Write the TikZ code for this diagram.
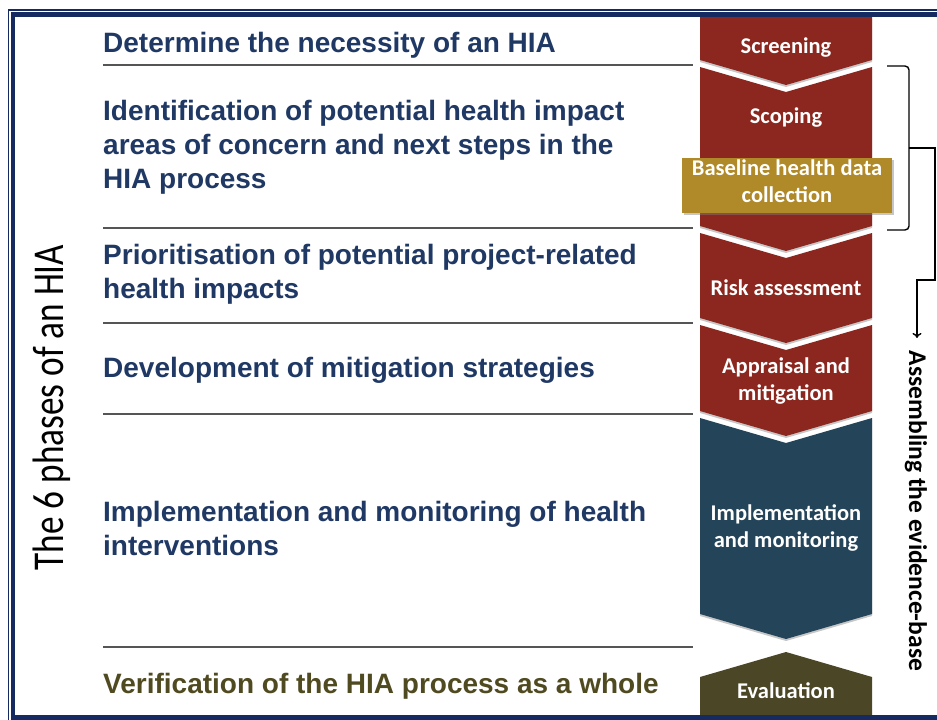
\documentclass[tikz,border=0pt]{standalone}
\usepackage{fontspec}
\newfontfamily\arialfont{Liberation Sans}
\newfontfamily\calibrifont{Carlito}
\usetikzlibrary{arrows.meta,shadows}

\definecolor{hianavy}{RGB}{31,56,100}
\definecolor{hiaolive}{RGB}{80,74,32}
\definecolor{framenavy}{RGB}{22,42,98}
\definecolor{sepgray}{RGB}{85,85,85}
\definecolor{chevred}{RGB}{139,39,31}
\definecolor{chevblue}{RGB}{36,68,90}
\definecolor{chevolive}{RGB}{75,70,38}
\definecolor{chevgold}{RGB}{176,137,40}

\begin{document}
\begin{tikzpicture}[x=1pt,y=-1pt,
    phase/.style={anchor=west, align=left, inner sep=0pt, text=hianavy,
      font=\arialfont\bfseries\fontsize{28}{34}\selectfont,
      execute at begin node=\strut, execute at end node=\strut},
    chevlabel/.style={align=center, inner sep=0pt, text=white,
      font=\calibrifont\bfseries\fontsize{22.5}{27}\selectfont,
      execute at begin node=\strut, execute at end node=\strut},
    chev/.style={fill=#1, preaction={fill=black!22, transform canvas={yshift=-2pt}}},
    sep/.style={draw=sepgray, line width=1.3pt},
    brace/.style={draw=black, line width=1.4pt, rounded corners=4pt},
    evarrow/.style={draw=black, line width=1.4pt, -{To[length=5pt,width=9pt]}}]
  \useasboundingbox (0,0) rectangle (937,720);
  \clip (0,0) rectangle (937,720);

  % phase descriptions
  \node[phase] (necessity) at (103,45.2) {Determine the necessity of an HIA};
  \node[phase] (scopetxt) at (103,149.2) {Identification of potential health impact\\areas of concern and next steps in the\\HIA process};
  \node[phase] (risktxt) at (103,276.2) {Prioritisation of potential project-related\\health impacts};
  \node[phase] (mitigtxt) at (103,370.2) {Development of mitigation strategies};
  \node[phase] (impltxt) at (103,533.2) {Implementation and monitoring of health\\interventions};
  \node[phase, text=hiaolive] (verifytxt) at (103,686.2) {Verification of the HIA process as a whole};

  % separators
  \draw[sep] (103,65) -- (693,65);
  \draw[sep] (103,228) -- (693,228);
  \draw[sep] (103,323) -- (693,323);
  \draw[sep] (103,414) -- (693,414);
  \draw[sep] (103,647) -- (693,647);

  % chevrons
  \fill[chev=chevred] (700,17) -- (872,17) -- (872,60) -- (786,85) -- (700,60) -- cycle;
  \fill[chev=chevred] (700,67) -- (786,92) -- (872,67) -- (872,226) -- (786,251) -- (700,226) -- cycle;
  \fill[chev=chevred] (700,233) -- (786,258) -- (872,233) -- (872,318) -- (786,343) -- (700,318) -- cycle;
  \fill[chev=chevred] (700,325) -- (786,350) -- (872,325) -- (872,411) -- (786,436) -- (700,411) -- cycle;
  \fill[chev=chevblue] (700,418) -- (786,443) -- (872,418) -- (872,614) -- (786,639) -- (700,614) -- cycle;
  \fill[chevolive] (700,677) -- (786,652) -- (872,677) -- (872,725) -- (700,725) -- cycle;

  \node[chevlabel] (screening) at (786,47.6) {Screening};
  \node[chevlabel] (scoping) at (786,117.6) {Scoping};
  \node[chevlabel, fill=chevgold, minimum width=210pt, minimum height=55pt,
    drop shadow={shadow xshift=2pt, shadow yshift=-2pt, opacity=0.45}] (baseline) at (787,185.5) {Baseline health data\\collection};
  \node[chevlabel] (riskass) at (786,289.6) {Risk assessment};
  \node[chevlabel] (appraisal) at (786,383.1) {Appraisal and\\mitigation};
  \node[chevlabel] (implement) at (786,530.6) {Implementation\\and monitoring};
  \node[chevlabel] (evaluation) at (786,692.6) {Evaluation};

  % side labels
  \node[anchor=base, rotate=90, inner sep=0pt, font=\calibrifont\fontsize{44}{50}\selectfont] (phases) at (63,407.5) {\scalebox{0.8}[1]{The 6 phases of an HIA}};
  \node[anchor=base, rotate=-90, inner sep=0pt, font=\calibrifont\bfseries\fontsize{25.5}{30}\selectfont] (evlabel) at (909,511) {Assembling the evidence-base};

  % bracket and arrow
  \coordinate (brtop) at (887,66);
  \coordinate (brbot) at (887,230);
  \coordinate (brtip) at (909,148);
  \coordinate (arrend) at (917,338);
  \draw[brace] (brtop) -| (brtip);
  \draw[brace] (brbot) -| (brtip);
  \draw[evarrow] (brtip) -- ++(26,0) -- ++(0,132) -| (arrend);

  % frame
  \draw[framenavy, line width=1.5pt] (8.5,10) rectangle (950,730);
  \draw[framenavy, line width=4.5pt] (13,14.5) rectangle (945,717.5);
\end{tikzpicture}
\end{document}
